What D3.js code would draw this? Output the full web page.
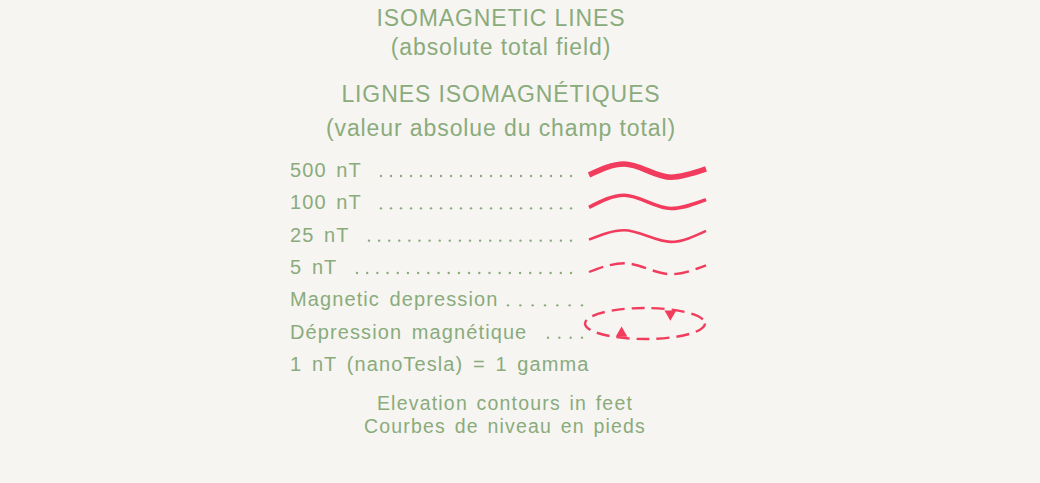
<!DOCTYPE html>
<meta charset="utf-8">
<style>
body { margin: 0; background: #f6f5f1; }
svg { display: block; }
.title { font-family: "Liberation Sans", Arial, sans-serif; font-size: 23px; letter-spacing: 0.9px; fill: #8aab7c; }
.row { font-family: "Liberation Sans", Arial, sans-serif; font-size: 20px; letter-spacing: 1.1px; word-spacing: 3px; fill: #8aab7c; }
.foot { font-family: "Liberation Sans", Arial, sans-serif; font-size: 19.5px; letter-spacing: 1.2px; word-spacing: 2px; fill: #8aab7c; }
.leader circle { fill: #8aab7c; }
.iso { fill: none; stroke: #f13c5d; stroke-linecap: butt; }
</style>
<svg width="1040" height="483"></svg>

<script src="https://d3js.org/d3.v7.min.js"></script>
<script>
/* global d3 */

// heading lines, top to bottom
var titles = ["ISOMAGNETIC LINES", "(absolute total field)", "LIGNES ISOMAGNÉTIQUES", "(valeur absolue du champ total)"];
// legend rows
var rowLabels = ["500 nT", "100 nT", "25 nT", "5 nT", "Magnetic depression", "Dépression magnétique", "1 nT (nanoTesla) = 1 gamma"];
// leader dots: [first x, last x, count] per row (null = no dots)
var leaderDots = [[381, 571, 20], [381, 571, 20], [369, 571, 21], [357, 571, 22], [508, 582, 7], [548, 582, 4], null];
// isomagnetic line levels (nT), stroke widths and dash pattern
var levels = [500, 100, 25, 5];
var levelWidth = [5.5, 3.6, 2.6, 2.4];
var levelDash = [null, null, null, "15,7"];
// common wave profile, x in 0..1, y in relative units (up = positive)
var waveX = [0, 0.3, 0.7, 1];
var waveY = [[0, 1, -0.2, 0.55], [0, 1.1, -0.1, 0.7], [0, 0.85, -0.2, 0.8], [0, 0.8, -0.2, 0.6]];
// depression symbol ticks: angle on ellipse (deg, 0 = right, counter-clockwise) and direction
var depressionTicks = [{ angle: 65, dir: "down" }, { angle: 247, dir: "up" }];
// footer
var footer = ["Elevation contours in feet", "Courbes de niveau en pieds"];

var svg = d3.select("svg"),
    cx = 501;

// titles
var titleY = [26, 55, 102, 136];
svg.append("g").selectAll("text")
  .data(titles)
  .enter().append("text")
    .attr("class", "title")
    .attr("x", cx)
    .attr("y", function(d, i) { return titleY[i]; })
    .attr("text-anchor", "middle")
    .text(function(d) { return d; });

// row positions
var rowY = d3.scaleLinear().domain([0, rowLabels.length - 1]).range([177, 371]);

svg.append("g").selectAll("text")
  .data(rowLabels)
  .enter().append("text")
    .attr("class", "row")
    .attr("x", 290)
    .attr("y", function(d, i) { return rowY(i); })
    .text(function(d) { return d; });

// leader dots
var dots = svg.append("g").attr("class", "leader");
leaderDots.forEach(function(ld, i) {
  if (!ld) return;
  var s = d3.scaleLinear().domain([0, ld[2] - 1]).range([ld[0], ld[1]]);
  dots.selectAll(null)
    .data(d3.range(ld[2]))
    .enter().append("circle")
      .attr("cx", function(k) { return s(k); })
      .attr("cy", rowY(i) - 1)
      .attr("r", 1.2);
});

// isomagnetic lines
var xWave = d3.scaleLinear().domain([0, 1]).range([589, 706]);
levels.forEach(function(lv, i) {
  var y0 = rowY(i) - 2;
  var yWave = d3.scaleLinear().domain([0, 1]).range([y0, y0 - 11]);
  var line = d3.line()
    .x(function(d, j) { return xWave(waveX[j]); })
    .y(function(d) { return yWave(d); })
    .curve(d3.curveMonotoneX);
  svg.append("path")
    .attr("class", "iso")
    .attr("d", line(waveY[i]))
    .attr("stroke-width", levelWidth[i])
    .attr("stroke-dasharray", levelDash[i]);
});

// magnetic depression symbol
var ex = 645, ey = (rowY(4) + rowY(5)) / 2 + 1, erx = 60, ery = 15.5;
svg.append("ellipse")
  .attr("class", "iso")
  .attr("cx", ex)
  .attr("cy", ey)
  .attr("rx", erx)
  .attr("ry", ery)
  .attr("stroke-width", 2.4)
  .attr("stroke-dasharray", "13,7");

var tri = d3.symbol().type(d3.symbolTriangle).size(60);
svg.append("g").selectAll("path")
  .data(depressionTicks)
  .enter().append("path")
    .attr("d", tri)
    .attr("fill", "#f13c5d")
    .attr("transform", function(d) {
      var a = d.angle * Math.PI / 180,
          px = ex + erx * Math.cos(a),
          py = ey - ery * Math.sin(a);
      // nudge inward so the tick sits inside the ring
      py += d.dir === "down" ? 4.5 : -4.5;
      return "translate(" + px + "," + py + ") rotate(" + (d.dir === "down" ? 180 : 0) + ")";
    });

// footer
var footY = [410, 433];
svg.append("g").selectAll("text")
  .data(footer)
  .enter().append("text")
    .attr("class", "foot")
    .attr("x", 505)
    .attr("y", function(d, i) { return footY[i]; })
    .attr("text-anchor", "middle")
    .text(function(d) { return d; });
</script>
